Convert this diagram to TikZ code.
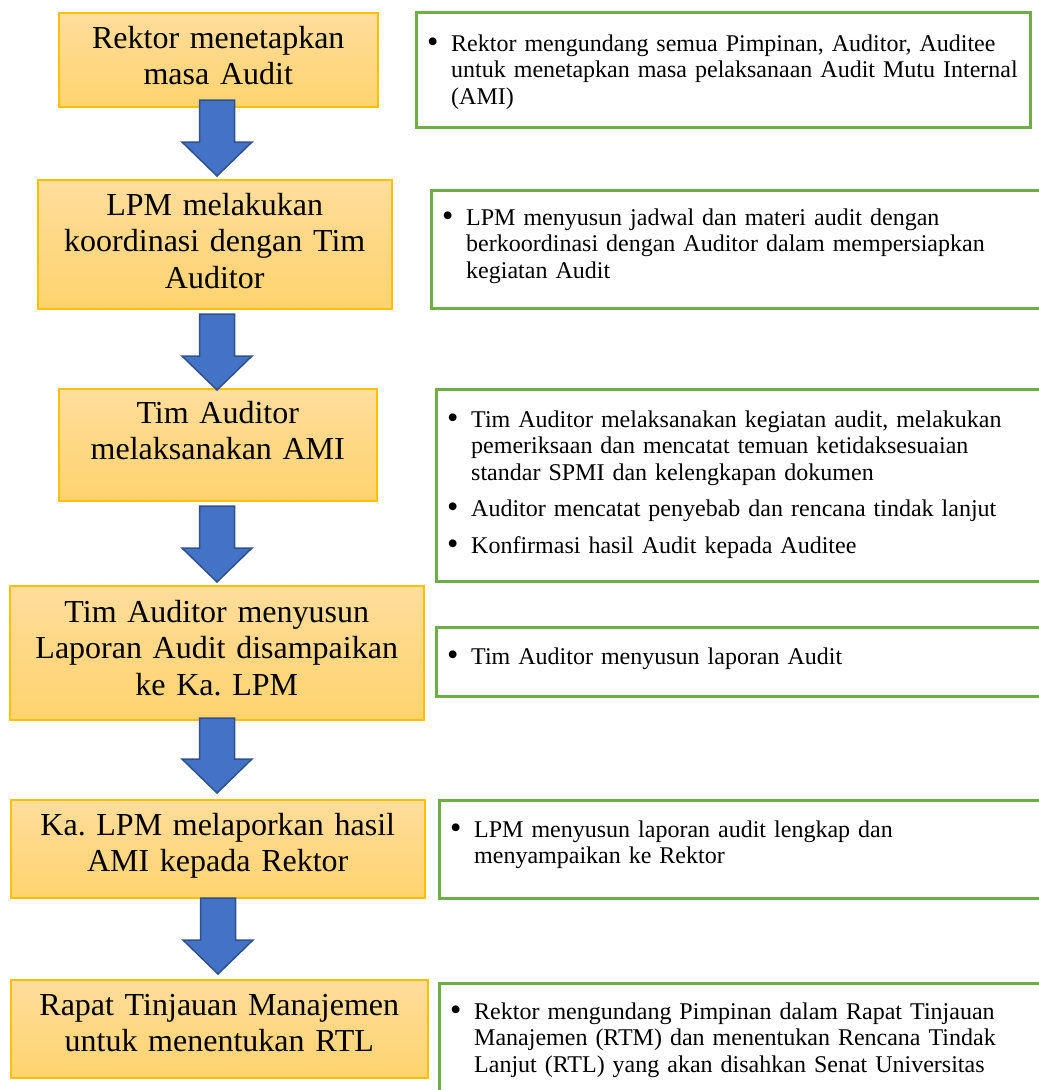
\documentclass[tikz,border=0pt]{standalone}
\usepackage{fontspec}
\usepackage{graphicx}
\setmainfont{Liberation Serif}
\frenchspacing
\usetikzlibrary{calc}

\definecolor{boxedge}{HTML}{FFC000}
\definecolor{boxtop}{HTML}{FFDD9C}
\definecolor{boxbot}{HTML}{FFD36E}
\definecolor{noteedge}{HTML}{70AD47}
\definecolor{arrowfill}{HTML}{4472C4}
\definecolor{arrowedge}{HTML}{2F528F}

\tikzset{
  stepbox/.style={draw=boxedge, line width=1.5pt, top color=boxtop, bottom color=boxbot,
    anchor=north west, inner sep=0pt, rectangle},
  steptext/.style={anchor=base, align=center, inner sep=0pt,
    font=\fontsize{32}{36.5}\selectfont},
  notebox/.style={draw=noteedge, line width=2.5pt, fill=white, anchor=north west,
    inner sep=0pt, rectangle},
  notetext/.style={anchor=base west, align=left, inner sep=0pt, text width=600pt,
    font=\fontsize{24}{26.5}\selectfont},
  blockarrow/.style={fill=arrowfill, draw=arrowedge, line width=1.5pt, line join=miter},
}

% bullet item: dot, then text with hanging indent
\newcommand\dotitem{\makebox[24pt][l]{\raisebox{-1pt}{\scalebox{1.35}{•}}}}
\newcommand\hang{\hspace*{24pt}}

% thick block arrow pointing down from #1 to #2
\newcommand\blockarrow[2]{%
  \path[blockarrow] let \p1=(#1), \p2=(#2) in
    (\x1-17.5pt,\y1) -- (\x1+17.5pt,\y1) -- (\x1+17.5pt,\y2+34pt)
    -- (\x1+35pt,\y2+34pt) -- (\x2,\y2) -- (\x1-35pt,\y2+34pt)
    -- (\x1-17.5pt,\y2+34pt) -- cycle;}

\begin{document}
\begin{tikzpicture}[x=1pt,y=-1pt]
\useasboundingbox (0,0) rectangle (1039,1090);
\fill[white] (0,0) rectangle (1039,1090);
\clip (0,0) rectangle (1039,1090);

% process steps
\node[stepbox, minimum width=319pt, minimum height=94pt]  (s1) at (58,12)  {};
\node[stepbox, minimum width=354pt, minimum height=129pt] (s2) at (37,179) {};
\node[stepbox, minimum width=318pt, minimum height=112pt] (s3) at (58,388) {};
\node[stepbox, minimum width=414pt, minimum height=134pt] (s4) at (9,585)  {};
\node[stepbox, minimum width=414pt, minimum height=98pt]  (s5) at (10,799) {};
\node[stepbox, minimum width=417pt, minimum height=98pt]  (s6) at (10,979) {};

\node[steptext, text width=310pt] (s1t) at ($(s1.north)+(0,36)$) {Rektor menetapkan\\masa Audit};
\node[steptext, text width=340pt] (s2t) at ($(s2.north)+(0,36)$) {LPM melakukan\\koordinasi dengan Tim\\Auditor};
\node[steptext, text width=310pt] (s3t) at ($(s3.north)+(0,35)$) {Tim Auditor\\melaksanakan AMI};
\node[steptext, text width=405pt] (s4t) at ($(s4.north)+(0,37)$) {Tim Auditor menyusun\\Laporan Audit disampaikan\\ke Ka. LPM};
\node[steptext, text width=405pt] (s5t) at ($(s5.north)+(0,36)$) {Ka. LPM melaporkan hasil\\AMI kepada Rektor};
\node[steptext, text width=405pt] (s6t) at ($(s6.north)+(0,36)$) {Rapat Tinjauan Manajemen\\untuk menentukan RTL};

% description boxes
\node[notebox, minimum width=614pt, minimum height=115pt] (n1) at (415,11)  {};
\node[notebox, minimum width=650pt, minimum height=118pt] (n2) at (430,189) {};
\node[notebox, minimum width=650pt, minimum height=192pt] (n3) at (435,388) {};
\node[notebox, minimum width=650pt, minimum height=69pt]  (n4) at (435,626) {};
\node[notebox, minimum width=650pt, minimum height=98pt]  (n5) at (438,799) {};
\node[notebox, minimum width=650pt, minimum height=150pt] (n6) at (438,982) {};

\node[notetext] (n1t) at ($(n1.north west)+(12,40)$)
  {\dotitem Rektor mengundang semua Pimpinan, Auditor, Auditee\\
   \hang untuk menetapkan masa pelaksanaan Audit Mutu Internal\\
   \hang (AMI)};
\node[notetext] (n2t) at ($(n2.north west)+(12,36)$)
  {\dotitem LPM menyusun jadwal dan materi audit dengan\\
   \hang berkoordinasi dengan Auditor dalam mempersiapkan\\
   \hang kegiatan Audit};
\node[notetext] (n3t) at ($(n3.north west)+(12,39)$)
  {\dotitem Tim Auditor melaksanakan kegiatan audit, melakukan\\
   \hang pemeriksaan dan mencatat temuan ketidaksesuaian\\
   \hang standar SPMI dan kelengkapan dokumen\\[10pt]
   \dotitem Auditor mencatat penyebab dan rencana tindak lanjut\\[10pt]
   \dotitem Konfirmasi hasil Audit kepada Auditee};
\node[notetext] (n4t) at ($(n4.north west)+(12,38)$)
  {\dotitem Tim Auditor menyusun laporan Audit};
\node[notetext] (n5t) at ($(n5.north west)+(12,38)$)
  {\dotitem LPM menyusun laporan audit lengkap dan\\
   \hang menyampaikan ke Rektor};
\node[notetext] (n6t) at ($(n6.north west)+(12,37)$)
  {\dotitem Rektor mengundang Pimpinan dalam Rapat Tinjauan\\
   \hang Manajemen (RTM) dan menentukan Rencana Tindak\\
   \hang Lanjut (RTL) yang akan disahkan Senat Universitas};

% arrow ends
\coordinate (a1s) at (217,100); \coordinate (a1e) at (217,176);
\coordinate (a2s) at (217,314); \coordinate (a2e) at (217,390);
\coordinate (a3s) at (217,506); \coordinate (a3e) at (217,582);
\coordinate (a4s) at (217,718); \coordinate (a4e) at (217,793);
\coordinate (a5s) at (218,898); \coordinate (a5e) at (218,974);

\blockarrow{a1s}{a1e}
\blockarrow{a2s}{a2e}
\blockarrow{a3s}{a3e}
\blockarrow{a4s}{a4e}
\blockarrow{a5s}{a5e}
\end{tikzpicture}
\end{document}
